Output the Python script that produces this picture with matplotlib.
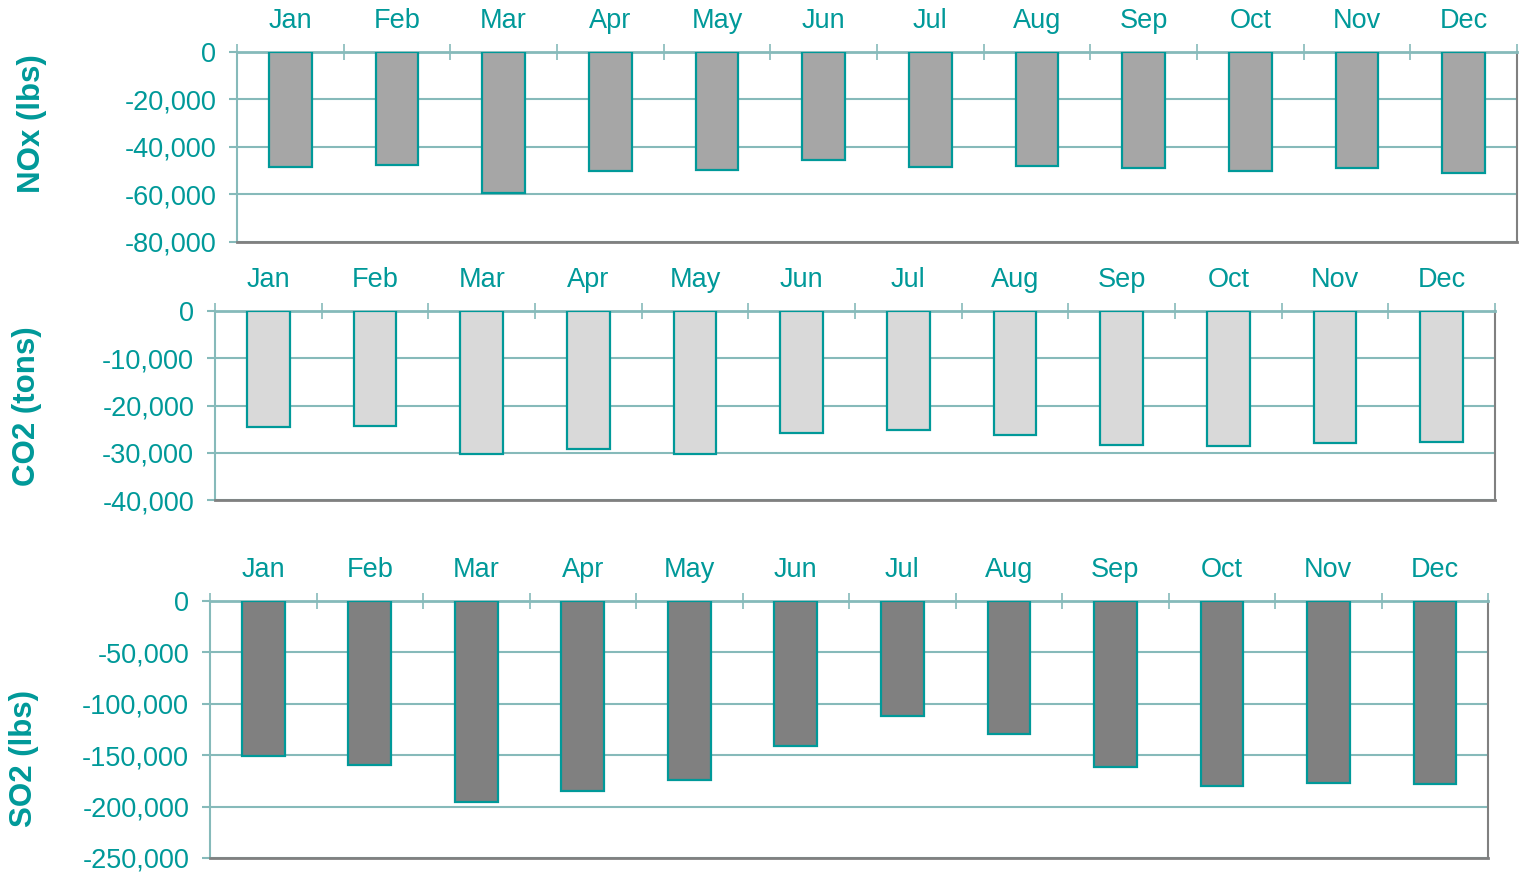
import numpy as np
import matplotlib
matplotlib.use("Agg")
import matplotlib.pyplot as plt
from matplotlib.ticker import FuncFormatter

plt.rcParams['font.family'] = ['Liberation Sans', 'DejaVu Sans']

months = ["Jan", "Feb", "Mar", "Apr", "May", "Jun",
          "Jul", "Aug", "Sep", "Oct", "Nov", "Dec"]

# emission reductions
nox_lbs = [-48300, -47700, -59300, -50000, -49600, -45500,
           -48300, -48200, -48700, -50100, -48700, -51000]
co2_tons = [-24500, -24300, -30200, -29200, -30300, -25800,
            -25200, -26200, -28400, -28600, -27900, -27700]
so2_lbs = [-151000, -159500, -195500, -185000, -174500, -141000,
           -112000, -129500, -161500, -180000, -177000, -178000]

panels = [
    # values, label, fill, ylim min, tick step, axes rect, label x, label y
    (nox_lbs, "NOx (lbs)", "#A6A6A6", -80000, 20000, [0.1557, 0.7225, 0.8410, 0.2179], 0.0210, 0.8578),
    (co2_tons, "CO2 (tons)", "#D9D9D9", -40000, 10000, [0.1413, 0.4266, 0.8410, 0.2167], 0.0177, 0.5344),
    (so2_lbs, "SO2 (lbs)", "#808080", -250000, 50000, [0.1380, 0.0161, 0.8397, 0.2947], 0.0158, 0.1307),
]

teal = "#009999"
grid_c = "#86BABA"
frame_c = "#808080"

fig = plt.figure(figsize=(15.22, 8.72), dpi=100)

for vals, label, fill, ymin, step, rect, lx, ly in panels:
    ax = fig.add_axes(rect)
    x = np.arange(len(months))
    ax.bar(x, vals, width=0.4, color=fill, edgecolor=teal, linewidth=1.6, zorder=3)
    ax.set_xlim(-0.5, 11.5)
    ax.set_ylim(ymin, 0)
    ax.set_yticks(np.arange(ymin, 1, step))
    ax.yaxis.set_major_formatter(FuncFormatter(lambda v, p: f"{int(v):,}"))
    ax.grid(axis='y', color=grid_c, linewidth=1.5, zorder=0)

    # month names on top, category boundary ticks across the zero line
    ax.xaxis.tick_top()
    ax.set_xticks(x)
    ax.set_xticklabels(months)
    ax.set_xticks(np.arange(-0.5, 12, 1), minor=True)
    ax.tick_params(axis='x', which='major', length=0, pad=13, labelsize=19.5, labelcolor=teal)
    ax.tick_params(axis='x', which='minor', direction='inout', length=11, width=1.2, color=grid_c)
    ax.tick_params(axis='y', length=6, width=1.5, color=grid_c, pad=9, labelsize=19.5, labelcolor=teal)

    ax.spines['top'].set_color(grid_c)
    ax.spines['top'].set_linewidth(2)
    ax.spines['left'].set_color(grid_c)
    ax.spines['left'].set_linewidth(1.5)
    ax.spines['right'].set_color(frame_c)
    ax.spines['right'].set_linewidth(1.5)
    ax.spines['bottom'].set_color(frame_c)
    ax.spines['bottom'].set_linewidth(2)

    fig.text(lx, ly, label, rotation=90, ha='center', va='center',
             fontsize=22.5, fontweight='bold', color=teal)

plt.savefig("out.png", dpi=100)
